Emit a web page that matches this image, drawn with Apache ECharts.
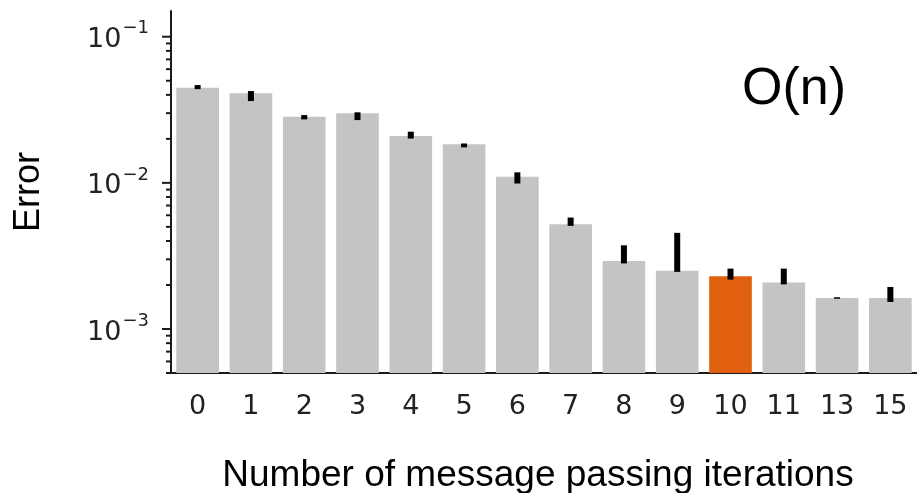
<!DOCTYPE html>
<html>
<head>
<meta charset="utf-8">
<script src="https://cdn.jsdelivr.net/npm/echarts@6/dist/echarts.min.js"></script>
<style>
  html, body { margin: 0; padding: 0; background: #ffffff; }
  #chart { width: 917px; height: 493px; }
</style>
</head>
<body>
<div id="chart"></div>
<script>
// Number of message passing iterations tested
const iterations = ['0', '1', '2', '3', '4', '5', '6', '7', '8', '9', '10', '11', '13', '15'];
// Mean error for each iteration count
const meanError = [0.0447, 0.0410, 0.0283, 0.0299, 0.0209, 0.0184, 0.0110, 0.00521,
                   0.00292, 0.00250, 0.00230, 0.00208, 0.00163, 0.00163];
// Spread of the error (lower / upper end of each error bar)
const errLow  = [0.0438, 0.0363, 0.0272, 0.0269, 0.0201, 0.0175, 0.0099, 0.00508,
                 0.00281, 0.00246, 0.00218, 0.00202, 0.00162, 0.00153];
const errHigh = [0.0467, 0.0425, 0.0291, 0.0304, 0.0224, 0.0186, 0.0118, 0.00579,
                 0.00374, 0.00455, 0.00259, 0.00259, 0.00165, 0.00194];
// The chosen setting is highlighted
const highlighted = '10';
// Decade ticks on the error axis
const majorTicks = [0.001, 0.01, 0.1];
const yMin = 0.0005;
const yMax = 0.15;

const GREY = '#c4c4c4';
const ORANGE = '#e0600f';
const INK = '#1a1a1a';

// minor ticks at 2..9 x 10^n inside the axis range
const minorTicks = [];
for (let n = -4; n <= -1; n++) {
  for (let k = 2; k <= 9; k++) {
    const v = k * Math.pow(10, n);
    if (v >= yMin && v <= yMax) minorTicks.push(v);
  }
}

const tickData = majorTicks.map(v => [0, v, 1]).concat(minorTicks.map(v => [0, v, 0]));

const chart = echarts.init(document.getElementById('chart'), null, { renderer: 'canvas' });

const supDigits = { '-1': '\u22121', '-2': '\u22122', '-3': '\u22123' };

chart.setOption({
  animation: false,
  backgroundColor: '#ffffff',
  grid: { left: 171, right: 0, top: 11, bottom: 120, containLabel: false, outerBoundsMode: 'none' },
  xAxis: {
    type: 'category',
    data: iterations,
    boundaryGap: true,
    axisLine: { lineStyle: { color: INK, width: 2 } },
    axisTick: { alignWithLabel: true, length: 9, lineStyle: { color: INK, width: 2 } },
    axisLabel: { fontFamily: 'DejaVu Sans', fontSize: 27, color: '#222', margin: 20 },
    name: 'Number of message passing iterations',
    nameLocation: 'middle',
    nameGap: 84,
    nameTextStyle: { fontFamily: 'Liberation Sans', fontSize: 37, color: '#000', padding: [0, 12, 0, 0] }
  },
  yAxis: {
    type: 'log',
    logBase: 10,
    min: yMin,
    max: yMax,
    startValue: yMin,
    splitLine: { show: false },
    axisLine: { show: true, lineStyle: { color: INK, width: 2 } },
    axisTick: { show: false },
    axisLabel: {
      margin: 22,
      formatter: function (v) {
        const e = Math.log10(v);
        const r = Math.round(e);
        if (Math.abs(e - r) > 1e-6) return '';
        return '{b|10}{s|' + (supDigits[String(r)] || String(r)) + '}';
      },
      rich: {
        b: { fontFamily: 'DejaVu Sans', fontSize: 27, color: '#222', lineHeight: 34, verticalAlign: 'bottom' },
        s: { fontFamily: 'DejaVu Sans', fontSize: 18, color: '#222', lineHeight: 34, verticalAlign: 'top', padding: [0, 0, 0, 1] }
      }
    },
    name: 'Error',
    nameLocation: 'middle',
    nameGap: 124,
    nameRotate: 90,
    nameTextStyle: { fontFamily: 'Liberation Sans', fontSize: 36, color: '#000' }
  },
  graphic: [{
    type: 'text',
    left: 742,
    top: 64,
    style: { text: 'O(n)', fontFamily: 'Liberation Sans', fontSize: 52, fill: '#000' }
  }],
  series: [
    {
      type: 'bar',
      barWidth: '80%',
      data: meanError.map((v, i) => ({
        value: v,
        itemStyle: { color: iterations[i] === highlighted ? ORANGE : GREY }
      })),
      z: 2
    },
    {
      // error bars
      type: 'custom',
      data: iterations.map((c, i) => [i, errLow[i], errHigh[i]]),
      encode: { x: 0, y: [1, 2] },
      z: 3,
      renderItem: function (params, api) {
        const lo = api.coord([api.value(0), api.value(1)]);
        const hi = api.coord([api.value(0), api.value(2)]);
        const h = Math.max(lo[1] - hi[1], 1.5);
        return {
          type: 'rect',
          shape: { x: lo[0] - 3, y: hi[1], width: 6, height: h },
          style: { fill: '#000' }
        };
      }
    },
    {
      // major and minor ticks of the logarithmic error axis
      type: 'custom',
      data: tickData,
      encode: { x: 0, y: 1 },
      clip: false,
      silent: true,
      z: 4,
      renderItem: function (params, api) {
        const p = api.coord([0, api.value(1)]);
        const x0 = params.coordSys.x;
        const len = api.value(2) === 1 ? 9 : 5;
        return {
          type: 'line',
          shape: { x1: x0 - len, y1: p[1], x2: x0, y2: p[1] },
          style: { stroke: INK, lineWidth: 2 }
        };
      }
    }
  ]
});
</script>
</body>
</html>
